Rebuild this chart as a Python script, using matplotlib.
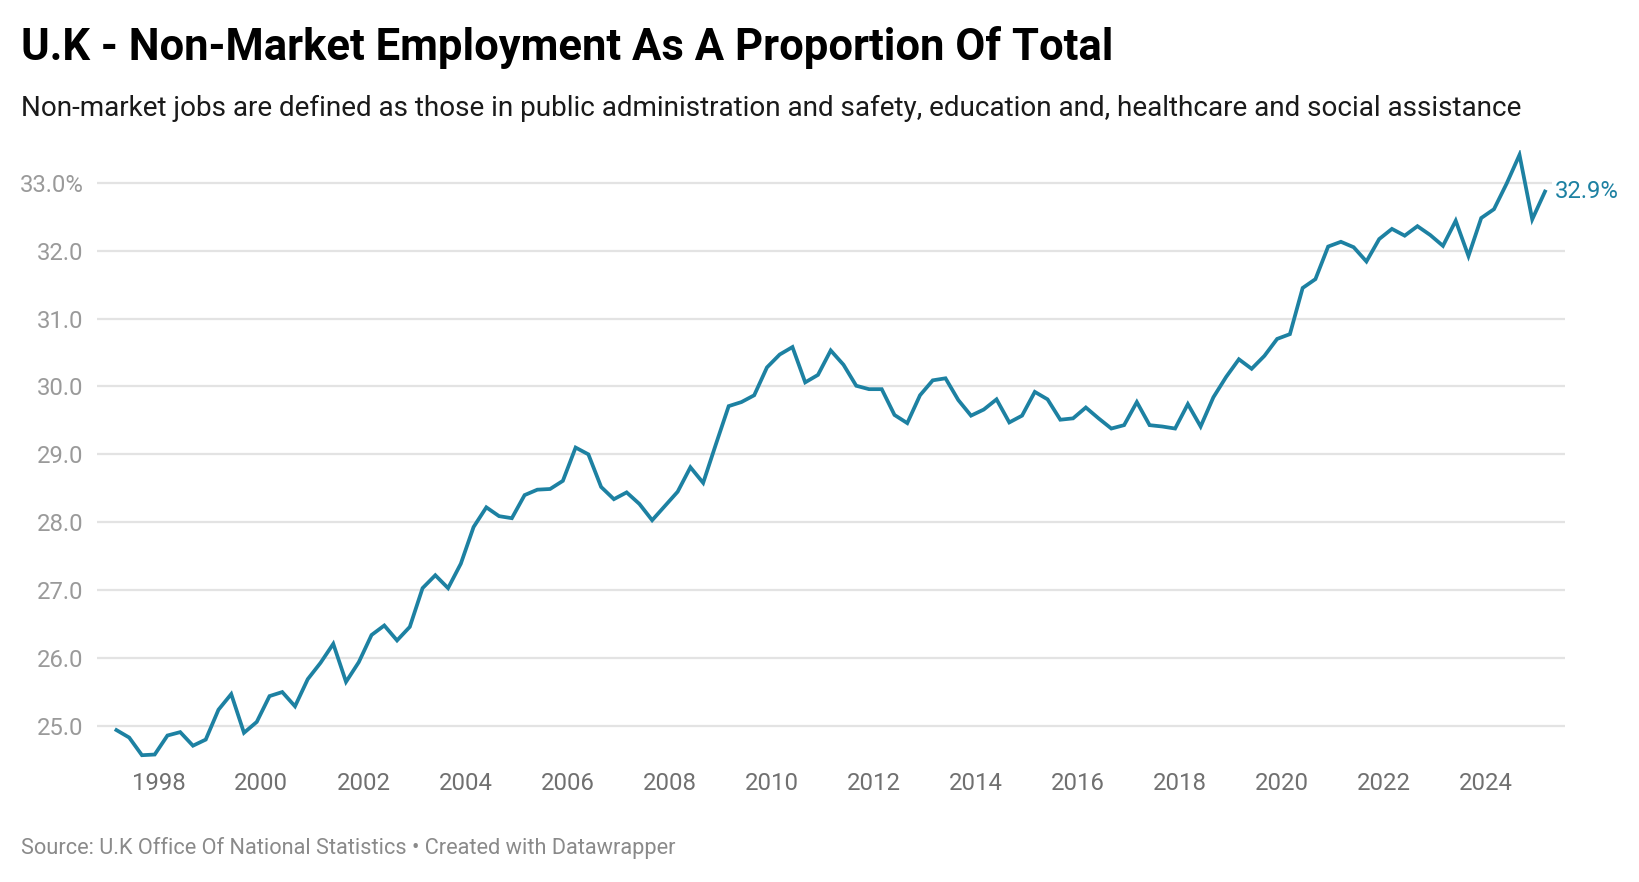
import matplotlib
matplotlib.use("Agg")
import matplotlib.pyplot as plt
import numpy as np
import pandas as pd

# ---- data: UK non-market employment share (%), quarterly 1997Q1 - 2025Q1 ----
quarters = pd.period_range("1997Q1", "2025Q1", freq="Q")
share = [
    24.94, 24.83, 24.57, 24.58, 24.86, 24.91, 24.71, 24.80,   # 1997-1998
    25.24, 25.47, 24.90, 25.06, 25.44, 25.50, 25.29, 25.69,   # 1999-2000
    25.93, 26.21, 25.65, 25.94, 26.34, 26.48, 26.26, 26.46,   # 2001-2002
    27.03, 27.22, 27.03, 27.39, 27.93, 28.22, 28.09, 28.06,   # 2003-2004
    28.40, 28.48, 28.49, 28.61, 29.10, 29.00, 28.52, 28.34,   # 2005-2006
    28.44, 28.27, 28.03, 28.24, 28.45, 28.81, 28.58, 29.15,   # 2007-2008
    29.71, 29.77, 29.87, 30.28, 30.47, 30.58, 30.06, 30.17,   # 2009-2010
    30.53, 30.32, 30.01, 29.96, 29.96, 29.58, 29.46, 29.87,   # 2011-2012
    30.09, 30.12, 29.80, 29.57, 29.66, 29.81, 29.47, 29.57,   # 2013-2014
    29.92, 29.81, 29.51, 29.53, 29.69, 29.53, 29.38, 29.43,   # 2015-2016
    29.77, 29.43, 29.41, 29.38, 29.74, 29.41, 29.84, 30.14,   # 2017-2018
    30.40, 30.26, 30.45, 30.70, 30.77, 31.45, 31.58, 32.06,   # 2019-2020
    32.13, 32.05, 31.84, 32.17, 32.32, 32.22, 32.36, 32.23,   # 2021-2022
    32.07, 32.44, 31.92, 32.48, 32.61, 32.99, 33.41, 32.46,   # 2023-2024
    32.87,                                                    # 2025
]
y_ticks = [25, 26, 27, 28, 29, 30, 31, 32, 33]
y_tick_labels = ["25.0", "26.0", "27.0", "28.0", "29.0", "30.0", "31.0", "32.0", "33.0%"]
x_ticks = list(range(1998, 2025, 2))
x_tick_labels = [str(y) for y in x_ticks]

title = "U.K - Non-Market Employment As A Proportion Of Total"
subtitle = ("Non-market jobs are defined as those in public administration and safety, "
            "education and, healthcare and social assistance")
footer = "Source: U.K Office Of National Statistics \u2022 Created with Datawrapper"

# decimal-year position of each quarter (plotted near the middle of the quarter)
x = np.array([q.year + (q.quarter - 1) / 4 + 0.16 for q in quarters])
y = np.array(share)

LINE = "#1d81a2"
W, H = 1640, 882
plt.rcParams["font.family"] = ["Roboto", "DejaVu Sans"]

fig = plt.figure(figsize=(W / 100, H / 100), dpi=100)
fig.patch.set_facecolor("white")

ax = fig.add_axes([97 / W, 1 - 760 / H, (1565 - 97) / W, (760 - 150) / H])
ax.set_xlim(1996.779, 2025.552)
ax.set_ylim(24.4994, 33.4816)

for t in y_ticks:
    ax.axhline(t, color="#e3e3e3", lw=1.6, zorder=1)

ax.plot(x, y, color=LINE, lw=2.7, solid_joinstyle="miter", zorder=3)

ax.set_yticks(y_ticks)
ax.set_yticklabels(y_tick_labels)
ax.set_xticks(x_ticks)
ax.set_xticklabels(x_tick_labels)
ax.tick_params(axis="y", length=0, pad=9.5, labelsize=17.2, labelcolor="#9a9a9a")
ax.tick_params(axis="x", length=0, pad=9.0, labelsize=17.2, labelcolor="#707070")
for s in ax.spines.values():
    s.set_visible(False)
ax.set_facecolor("none")

# end label
ax.annotate(f"{y[-1]:.1f}%", xy=(x[-1], y[-1]), xytext=(7, 0),
            textcoords="offset points", va="center", ha="left",
            fontsize=17.2, color=LINE, zorder=4,
            bbox=dict(boxstyle="square,pad=0.1", fc="white", ec="none"))

fig.text(21 / W, 1 - 60 / H, title, fontsize=31.45, fontweight="bold",
         color="#000000", va="baseline", ha="left")
fig.text(21 / W, 1 - 115.5 / H, subtitle, fontsize=20.1, color="#1a1a1a",
         va="baseline", ha="left")
fig.text(21 / W, 1 - 854 / H, footer, fontsize=15.7, color="#8a8a8a",
         va="baseline", ha="left")

fig.savefig("out.png", dpi=100, facecolor="white")
